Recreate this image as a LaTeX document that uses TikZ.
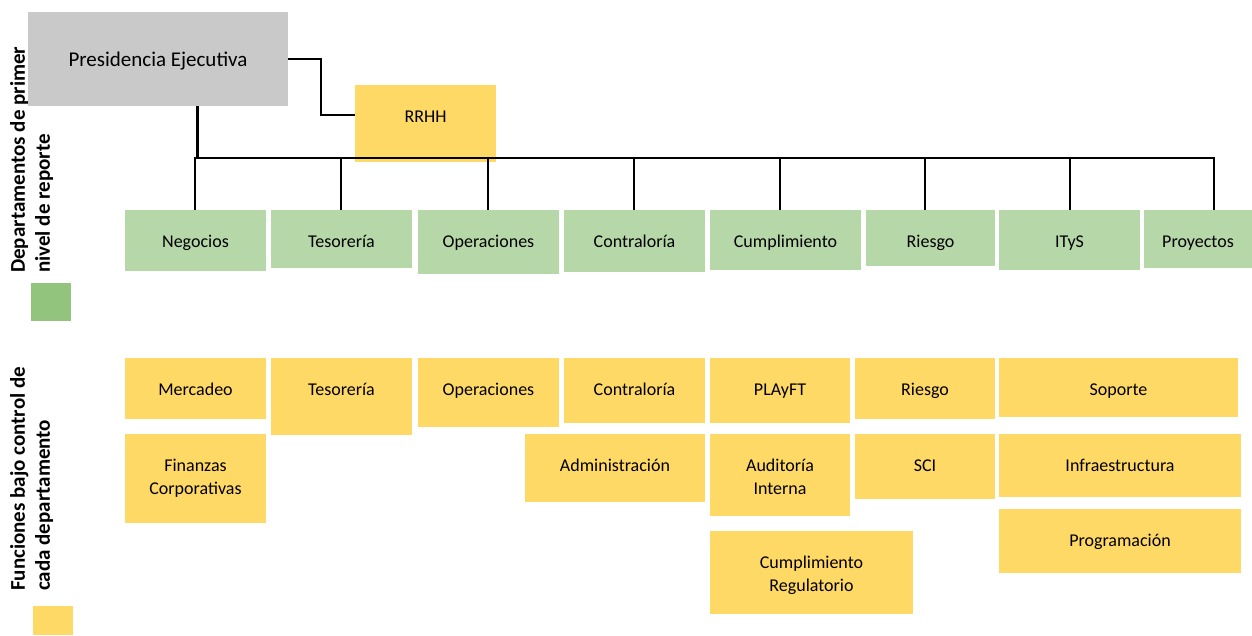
\documentclass[tikz,border=0pt]{standalone}
\usepackage{fontspec}
\setmainfont{Carlito}
\definecolor{gry}{HTML}{C9C9C9}
\definecolor{yel}{HTML}{FFD966}
\definecolor{grn}{HTML}{B6D7A8}
\definecolor{grnL}{HTML}{93C47D}
\tikzset{
  boxbase/.style={inner sep=0pt, outer sep=0pt, draw=none, anchor=north west},
  txt/.style={font=\fontsize{18}{23}\selectfont, align=center, inner sep=0pt, anchor=base},
  sidelbl/.style={font=\bfseries\fontsize{21}{25}\selectfont, rotate=90, align=left, inner sep=0pt, anchor=north west},
  link/.style={line width=2pt, black},
}
% single-line box
\newcommand\bx[7]{%
  \node[boxbase, fill=#6, minimum width={#4-#2}, minimum height={#5-#3}] (#1) at (#2,#3) {};
  \node[txt] (#1t) at ({(#2+#4)/2},{#3+37}) {#7};}
% two-line box (base anchor is the last line)
\newcommand\bxx[7]{%
  \node[boxbase, fill=#6, minimum width={#4-#2}, minimum height={#5-#3}] (#1) at (#2,#3) {};
  \node[txt] (#1t) at ({(#2+#4)/2},{#3+37+23}) {#7};}
\begin{document}
\begin{tikzpicture}[x=1pt,y=-1pt]
\useasboundingbox (0,0) rectangle (1252,635);
% top
\node[boxbase, fill=gry, minimum width=260, minimum height=94] (pres) at (28,12) {};
\node[txt, font=\fontsize{21}{25}\selectfont] (prest) at (158,66) {Presidencia Ejecutiva};
\bx{rrhh}{355}{85}{496}{162}{yel}{RRHH}
% departments
\bx{neg}{125}{210}{266}{271}{grn}{Negocios}
\bx{tes}{271}{210}{412}{268}{grn}{Tesorería}
\bx{ope}{418}{210}{559}{274}{grn}{Operaciones}
\bx{con}{564}{210}{705}{272}{grn}{Contraloría}
\bx{cum}{710}{210}{861}{270}{grn}{Cumplimiento}
\bx{rie}{866}{210}{995}{266}{grn}{Riesgo}
\bx{ity}{999}{210}{1140}{270}{grn}{ITyS}
\bx{pro}{1144}{210}{1252}{268}{grn}{Proyectos}
% functions
\bx{mer}{125}{358}{266}{419}{yel}{Mercadeo}
\bx{tesf}{271}{358}{412}{435}{yel}{Tesorería}
\bx{opef}{418}{358}{559}{427}{yel}{Operaciones}
\bx{conf}{564}{358}{705}{423}{yel}{Contraloría}
\bx{pla}{710}{358}{850}{423}{yel}{PLAyFT}
\bx{rief}{855}{358}{995}{419}{yel}{Riesgo}
\bx{sop}{999}{358}{1238}{417}{yel}{Soporte}
\bxx{fin}{125}{434}{266}{523}{yel}{Finanzas\\Corporativas}
\bx{adm}{525}{434}{705}{502}{yel}{Administración}
\bxx{aud}{710}{434}{850}{516}{yel}{Auditoría\\Interna}
\bx{sci}{855}{434}{995}{499}{yel}{SCI}
\bx{inf}{999}{434}{1241}{497}{yel}{Infraestructura}
\bxx{cur}{710}{531}{913}{614}{yel}{Cumplimiento\\Regulatorio}
\bx{prg}{999}{509}{1241}{573}{yel}{Programación}
% side labels and legend
\node[sidelbl] (lab1) at (10,273) {Departamentos de primer\\nivel de reporte};
\node[sidelbl] (lab2) at (10,591) {Funciones bajo control de\\cada departamento};
\node[boxbase, fill=grnL, minimum width=40, minimum height=38] (legG) at (31,283) {};
\node[boxbase, fill=yel, minimum width=40, minimum height=29] (legY) at (33,606) {};
% connectors
\coordinate (busL) at (197,158);
\coordinate (busR) at (1215,158);
\coordinate (rrIn) at (355,115);
\draw[line width=3pt] (busL |- pres.south) -- (busL);
\draw[link] ([xshift=-3pt]busL) -- (busR);
\draw[link] (pres.east) -| (321,115) -- (rrIn);
\foreach \n/\xx in {neg/195, tes/341, ope/488, con/634, cum/780, rie/925, ity/1070, pro/1214}
  \draw[link] (busL -| \xx,0) -- (\n.north -| \xx,0);
\end{tikzpicture}
\end{document}
